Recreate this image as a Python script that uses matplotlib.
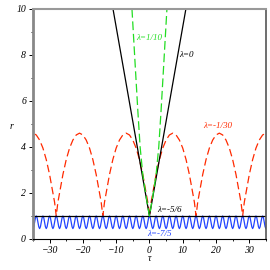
import numpy as np
import matplotlib
matplotlib.use('Agg')
import matplotlib.pyplot as plt

# lambda = 0 (black V)
k0_tau = [-10.95, 0, 10.95]
k0_r = [10, 1, 10]

# lambda = 1/10 (green, half read, mirrored)
g_tau = [0, 1, 2, 2.8, 3.5, 4.3, 5.25]
g_r = [1, 1.85, 2.8, 4.0, 5.6, 7.6, 10]

# lambda = -1/30 (red arch, one half read)
a_tau = [0, 0.5, 1, 2, 3, 4, 5, 6, 7]
a_r = [1.0, 1.6, 2.0, 2.8, 3.45, 3.95, 4.3, 4.52, 4.6]
cusps = [-42, -28, -14, 0, 14, 28, 42]

# lambda = -7/5 (blue, one period read)
b_tau = [0, 0.25, 0.5, 0.75, 1.0, 1.25, 1.5, 1.75]
b_r = [1.0, 0.92, 0.72, 0.53, 0.45, 0.53, 0.72, 0.92]
b_period = 2.0

# lambda = -5/6 (flat)
h_tau = [-35, 35]
h_r = [1, 1]

plt.rcParams['font.family'] = ['Liberation Serif', 'DejaVu Serif']

fig = plt.figure(figsize=(2.7, 2.7), dpi=100)
ax = fig.add_axes([0.122, 0.115, 0.863, 0.852])

# red arches
half_t = np.array(a_tau)
half_r = np.array(a_r)
arch_t = np.concatenate([half_t, 14 - half_t[::-1]])
arch_r = np.concatenate([half_r, half_r[::-1]])
rt = []
rr = []
for c in cusps:
    rt.append(c + arch_t)
    rr.append(arch_r)
rt = np.concatenate(rt)
rr = np.concatenate(rr)
ax.plot(rt, rr, color='#ff2a00', lw=0.9, dashes=(6, 3))

# blue oscillation
bt = []
br = []
for s in np.arange(-36, 36, b_period):
    bt.append(s + np.array(b_tau))
    br.append(np.array(b_r))
bt = np.concatenate(bt)
br = np.concatenate(br)
ax.plot(bt, br, color='#2244ff', lw=0.9)

ax.plot(h_tau, h_r, color='black', lw=0.9)
ax.plot(k0_tau, k0_r, color='black', lw=0.9)

gt = np.concatenate([-np.array(g_tau[::-1]), np.array(g_tau[1:])])
gr = np.concatenate([np.array(g_r[::-1]), np.array(g_r[1:])])
ax.plot(gt, gr, color='#22dd22', lw=0.9, dashes=(7, 3))

ax.set_xlim(-35, 35)
ax.set_ylim(0, 10)
ax.set_xticks([-30, -20, -10, 0, 10, 20, 30])
ax.set_xticks(np.arange(-35, 36, 5), minor=True)
ax.set_yticks([0, 2, 4, 6, 8, 10])
ax.set_yticks([1, 3, 5, 7, 9], minor=True)
ax.tick_params(which='major', direction='out', length=3, width=0.7, labelsize=7, pad=2)
ax.tick_params(which='minor', direction='out', length=1.5, width=0.6)
for lab in ax.get_xticklabels() + ax.get_yticklabels():
    lab.set_fontstyle('italic')

ax.spines['left'].set_color('#888888')
ax.spines['left'].set_linewidth(2)
ax.spines['top'].set_color('#999999')
ax.spines['top'].set_linewidth(1.5)
ax.spines['right'].set_color('#555555')
ax.spines['right'].set_linewidth(1.2)
ax.spines['bottom'].set_color('black')
ax.spines['bottom'].set_linewidth(0.8)

ax.text(-0.09, 0.49, 'r', transform=ax.transAxes, fontsize=7, style='italic', ha='center', va='center')
ax.text(0.5, -0.085, 'τ', transform=ax.transAxes, fontsize=7, style='italic', ha='center', va='center')

ax.text(0, 8.74, 'λ=1/10', color='#22dd22', fontsize=6.5, style='italic', ha='center', va='center')
ax.text(9.0, 8.0, 'λ=0', color='black', fontsize=6.5, style='italic', ha='left', va='center')
ax.text(16.2, 4.91, 'λ=-1/30', color='#ff2a00', fontsize=6.5, style='italic', ha='left', va='center')
ax.text(2.4, 1.26, 'λ=-5/6', color='black', fontsize=6.5, style='italic', ha='left', va='center')
ax.text(-0.6, 0.22, 'λ=-7/5', color='#2244ff', fontsize=6.5, style='italic', ha='left', va='center')

fig.savefig('out.png', dpi=100)
